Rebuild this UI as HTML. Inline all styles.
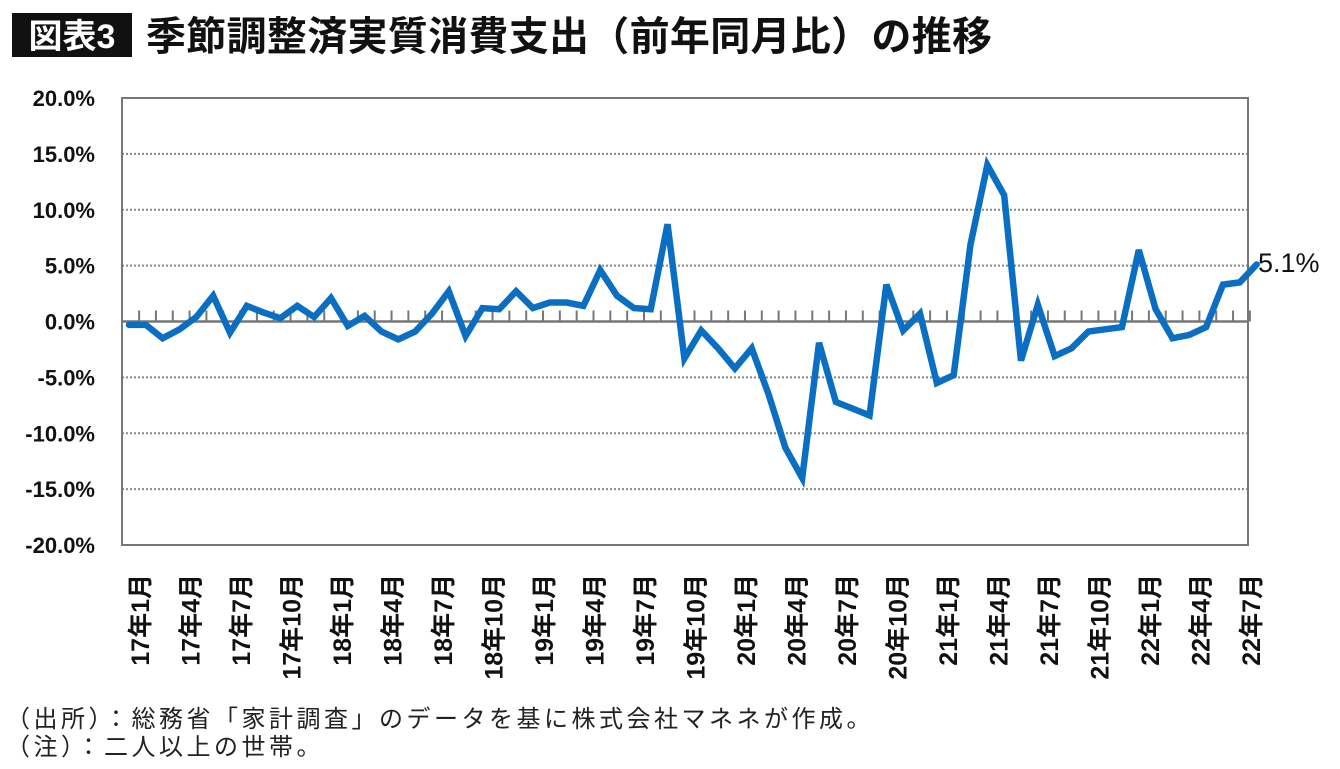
<!DOCTYPE html>
<html><head><meta charset="utf-8"><style>
body{margin:0;background:#fff;}
svg text{font-family:"Liberation Sans","Noto Sans CJK JP",sans-serif;}
</style></head><body>
<svg id="chart" width="1340" height="764" viewBox="0 0 1340 764" xmlns="http://www.w3.org/2000/svg">
<rect x="12" y="13" width="120" height="44" fill="#111"/>
<text x="72" y="48" fill="#fff" font-size="34" font-weight="bold" text-anchor="middle">図表3</text>
<text x="146" y="50" fill="#111" font-size="40" font-weight="bold" letter-spacing="0.3">季節調整済実質消費支出（前年同月比）の推移</text>
<g id="grid"></g>
<rect x="122" y="98" width="1126" height="447" fill="none" stroke="#777" stroke-width="2"/>
<g id="axes"></g>
<g id="series"></g>
<text x="1258" y="272" font-size="27" fill="#111">5.1%</text>
<text x="6" y="727" font-size="24" letter-spacing="3.5" fill="#222">（出所）：総務省「家計調査」のデータを基に株式会社マネネが作成。</text>
<text x="6" y="755" font-size="24" letter-spacing="3.5" fill="#222">（注）：二人以上の世帯。</text>
</svg>
<script>
const values = [-0.3,-0.3,-1.5,-0.7,0.4,2.3,-1.0,1.4,0.8,0.3,1.4,0.4,2.1,-0.4,0.5,-0.9,-1.6,-0.9,0.7,2.7,-1.3,1.2,1.1,2.7,1.2,1.7,1.7,1.4,4.6,2.3,1.2,1.1,8.7,
-3.3,-0.8,-2.4,-4.2,-2.4,-6.5,-11.3,-14.0,-1.9,-7.2,-7.8,-8.4,3.3,-0.8,0.7,-5.5,-4.8,6.9,14.0,11.3,-3.5,1.5,-3.1,-2.4,-0.9,-0.7,-0.5,6.4,1.1,-1.5,-1.2,-0.5,3.3,3.5,5.1];
const yTicks = [20,15,10,5,0,-5,-10,-15,-20];
const xLabels = ["17年1月","17年4月","17年7月","17年10月","18年1月","18年4月","18年7月","18年10月","19年1月","19年4月","19年7月","19年10月","20年1月","20年4月","20年7月","20年10月","21年1月","21年4月","21年7月","21年10月","22年1月","22年4月","22年7月"];
const NS="http://www.w3.org/2000/svg";
const x0=129, step=16.83;
const xs=i=>x0+i*step;
const ys=v=>321.5-v*11.175;
const grid=document.getElementById('grid'), axes=document.getElementById('axes'), series=document.getElementById('series');
function mk(tag,attrs,parent){const e=document.createElementNS(NS,tag);for(const k in attrs)e.setAttribute(k,attrs[k]);parent.appendChild(e);return e;}
yTicks.forEach(t=>{
  const y=ys(t);
  if(t!==0&&t!==20&&t!==-20){
    const l=mk('line',{x1:122,x2:1248,y1:y,y2:y,stroke:'#888','stroke-width':2,'stroke-dasharray':'2 2'},grid);
    
    
  }
  const tx=mk('text',{x:95,y:y+8,'font-size':22,'font-weight':'bold','text-anchor':'end',fill:'#111'},axes);
  tx.textContent=t.toFixed(1)+'%';
  
  
});
const z=mk('line',{x1:122,x2:1248,y1:ys(0),y2:ys(0),stroke:'#777','stroke-width':2.5},axes);


for(let i=0;i<values.length-1;i++){
  const tk=mk('line',{x1:xs(i)+step*0.6,x2:xs(i)+step*0.6,y1:ys(0),y2:ys(0)-11,stroke:'#777','stroke-width':2},axes);
  
  
}
xLabels.forEach((lab,j)=>{
  const x=xs(j*3)+11;
  const t=mk('text',{x:0,y:0,transform:`translate(${x+9},574) rotate(-90)`,'font-size':25,'font-weight':'bold','text-anchor':'end',fill:'#111'},axes);
  t.textContent=lab;
  
  
});
const p=mk('polyline',{points:values.map((v,i)=>xs(i)+','+ys(v)).join(' '),fill:'none',stroke:'#0a6fc2','stroke-width':6.5,'stroke-linejoin':'miter','stroke-linecap':'round'},series);


</script>
</body></html>
